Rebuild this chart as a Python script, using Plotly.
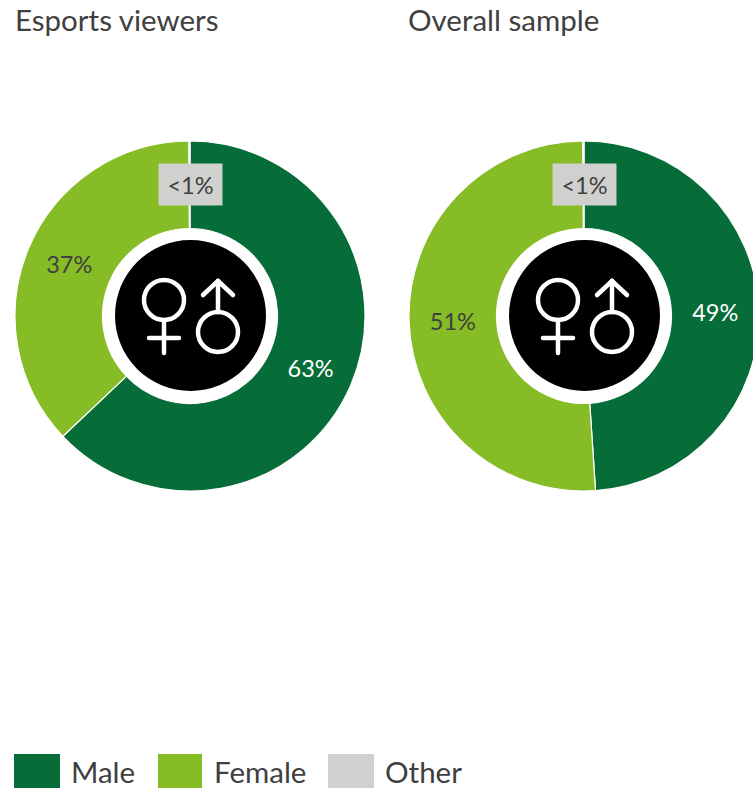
import plotly.graph_objects as go

# Share of respondents by gender, in percent
categories = ["Male", "Female", "Other"]
esports_viewers = [63, 37, 0.1]
overall_sample = [49, 51, 0.1]
esports_labels = ["63%", "37%", ""]
overall_labels = ["49%", "51%", ""]
other_label = "<1%"
panel_titles = ["Esports viewers", "Overall sample"]
colors = ["#066c38", "#86bc25", "#d0d0ce"]

W, H = 760, 789
FONT = "Lato, Carlito, Calibri, sans-serif"
TEXT = "#404040"


def px(x):
    return x / W


def py(y):
    return 1 - y / H


def paper_shape(kind, x0, y0, x1, y1, **kw):
    return dict(type=kind, xref="paper", yref="paper",
                x0=px(x0), x1=px(x1), y0=py(y0), y1=py(y1), **kw)


def gender_icon(dx):
    """Black disc with the female and male symbols, offset horizontally by dx."""
    stroke = dict(color="white", width=4.5)
    out = [paper_shape("circle", 115 + dx, 240, 266 + dx, 391,
                       fillcolor="black", line=dict(width=0), layer="above")]
    rings = [(164, 300), (218, 332)]
    for cx, cy in rings:
        out.append(paper_shape("circle", cx - 20 + dx, cy - 20, cx + 20 + dx, cy + 20,
                               line=stroke, fillcolor="rgba(0,0,0,0)"))
    strokes = [
        (164, 320, 164, 353), (149, 338, 179, 338),
        (218, 312, 218, 281), (203, 295, 218, 281), (218, 281, 233, 295),
    ]
    for x0, y0, x1, y1 in strokes:
        out.append(paper_shape("line", x0 + dx, y0, x1 + dx, y1, line=stroke))
    return out


panels = [(15, esports_viewers, esports_labels), (409, overall_sample, overall_labels)]

fig = go.Figure()
for left, values, labels in panels:
    fig.add_trace(go.Pie(
        labels=categories,
        values=values,
        text=labels,
        textinfo="text",
        textposition="inside",
        insidetextorientation="horizontal",
        insidetextfont=dict(family=FONT, size=23.5, color=["white", TEXT, TEXT]),
        marker=dict(colors=colors, line=dict(color="white", width=1.2)),
        hole=0.5,
        sort=False,
        direction="clockwise",
        rotation=0,
        showlegend=False,
        domain=dict(x=[px(left), px(left + 350)], y=[py(491), py(141)]),
    ))

shapes = gender_icon(0) + gender_icon(394)
annotations = []

for x, title in zip((13, 406), panel_titles):
    annotations.append(dict(x=px(x), y=py(20), xref="paper", yref="paper", text=title,
                            showarrow=False, xanchor="left", yanchor="middle",
                            font=dict(family=FONT, size=29.5, color=TEXT)))

# Grey tag naming the very small "Other" share
for cx in (190, 584):
    annotations.append(dict(x=px(cx), y=py(184.5), xref="paper", yref="paper",
                            text=other_label, showarrow=False, width=63, height=41,
                            xanchor="center", yanchor="middle",
                            bgcolor=colors[2], borderpad=0, align="center", valign="middle",
                            font=dict(family=FONT, size=23.5, color=TEXT)))

# Legend row
legend_items = [(14, 60, 69), (158, 202, 212), (328, 374, 383)]
for (x0, x1, tx), name, color in zip(legend_items, categories, colors):
    shapes.append(paper_shape("rect", x0, 754, x1, 788, fillcolor=color, line=dict(width=0)))
    annotations.append(dict(x=px(tx), y=py(771.5), xref="paper", yref="paper", text=name,
                            showarrow=False, xanchor="left", yanchor="middle",
                            font=dict(family=FONT, size=29.5, color=TEXT)))

fig.update_layout(
    width=W, height=H,
    margin=dict(l=0, r=0, t=0, b=0),
    paper_bgcolor="white",
    shapes=shapes,
    annotations=annotations,
)
# Round the ends of the icon strokes and keep the page from scrolling
fig.write_html("out.html", post_script=(
    "document.body.style.overflow='hidden';"
    "document.documentElement.style.overflow='hidden';"
    "document.querySelectorAll('.shapelayer path').forEach(function(p){"
    "p.style.strokeLinecap='round';p.style.strokeLinejoin='round';});"
))
